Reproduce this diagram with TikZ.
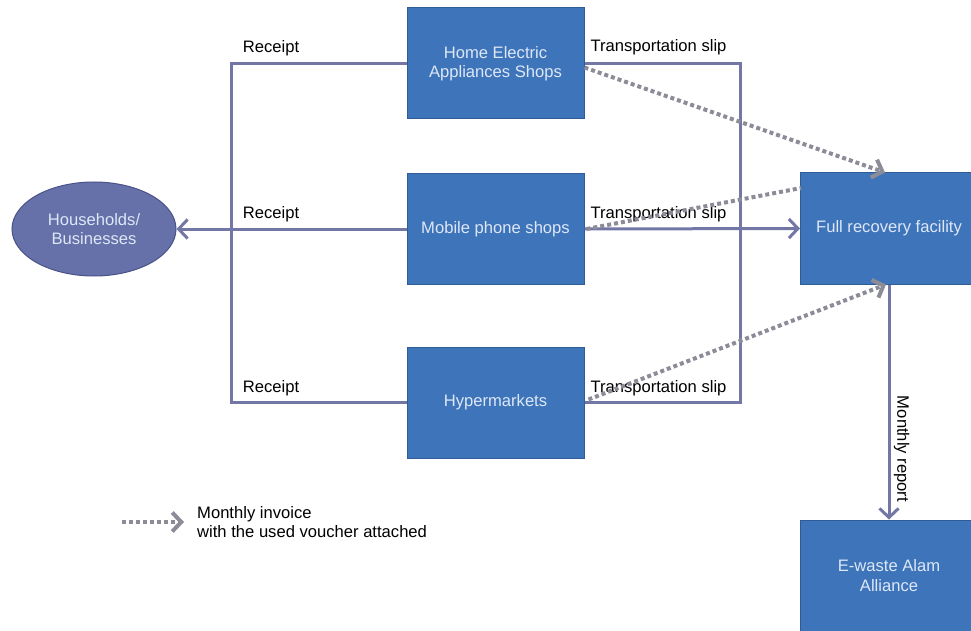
\documentclass[tikz,border=0pt]{standalone}
\usepackage{fontspec}
\setmainfont{Liberation Sans}
\usepackage{xcolor}
\usetikzlibrary{arrows.meta,shapes.geometric}

\definecolor{boxblue}{HTML}{3E74BA}
\definecolor{boxedge}{HTML}{2F5C96}
\definecolor{ovalblue}{HTML}{6670A9}
\definecolor{ovaledge}{HTML}{4A5288}
\definecolor{linecol}{HTML}{7377A6}
\definecolor{dotcol}{HTML}{8B8C98}
\definecolor{boxtext}{HTML}{DDE7F6}

\tikzset{
  shop/.style={draw=boxedge, line width=1pt, fill=boxblue, text=boxtext,
    minimum width=177pt, minimum height=111pt, align=center, inner sep=2pt},
  oval/.style={ellipse, draw=ovaledge, line width=1pt, fill=ovalblue, text=boxtext,
    minimum width=164pt, minimum height=94pt, align=center, inner sep=1pt},
  conn/.style={draw=linecol, line width=3pt},
  tip/.style={-{Straight Barb[length=9pt,width=19pt]}},
  invoice/.style={draw=dotcol, line width=4pt, dash pattern=on 4pt off 3pt},
}

\begin{document}
\begin{tikzpicture}[x=1pt,y=-1pt,font=\fontsize{16.6}{19.5}\selectfont]
\useasboundingbox (0,0) rectangle (971,631);
    % Nodes
    \node[oval] (house) at (94,229) {Households/\\Businesses};
    \node[shop] (home) at (495.5,63.5) {Home Electric\\Appliances Shops};
    \node[shop] (mobile) at (495.5,229) {Mobile phone shops};
    \node[shop] (hyper) at (495.5,402.5) {Hypermarkets};
    \node[shop] (frf) at (889,228.5) {Full recovery facility};
    \node[shop] (ewaste) at (889,575.5) {E-waste Alam\\Alliance};

    % Receipt side
    \coordinate (lb) at (231,402.5);
    \draw[conn] (home.west) -| (lb) -- (hyper.west);
    \draw[conn,tip] (mobile.west) -- (house.east);
    \node (rc1) at (271,48) {Receipt};
    \node (rc2) at (271,214) {Receipt};
    \node (rc3) at (271,388) {Receipt};

    % Transportation side
    \coordinate (rb) at (740,402.5);
    \draw[conn] (home.east) -| (rb) -- (hyper.east);
    \draw[conn,tip] (mobile.east) -- (frf.west);
    \node (ts1) at (658.5,47) {Transportation slip};
    \node (ts2) at (658.5,214) {Transportation slip};
    \node (ts3) at (658.5,388) {Transportation slip};

    % Report
    \draw[conn,tip] (frf.south) -- (ewaste.north)
        node[pos=0.7, rotate=-90, anchor=south, text=black] (rep) {Monthly report};

    % Invoices (dotted)
    \coordinate (fin) at (801,188);
    \draw[invoice,tip] ([yshift=-4pt]home.east) -- ([xshift=-4pt]frf.north);
    \draw[invoice] ([xshift=2pt]mobile.east) -- (fin);
    \draw[invoice,tip] ([xshift=4pt,yshift=3pt]hyper.east) -- ([xshift=-3pt]frf.south);

    % Legend
    \coordinate (keyA) at (122,522);
    \coordinate (keyB) at (184,522);
    \draw[invoice,tip] (keyA) -- (keyB);
    \node[anchor=west, align=left, inner sep=0pt] (keytxt) at (197,522)
        {Monthly invoice\\with the used voucher attached};
\end{tikzpicture}
\end{document}
